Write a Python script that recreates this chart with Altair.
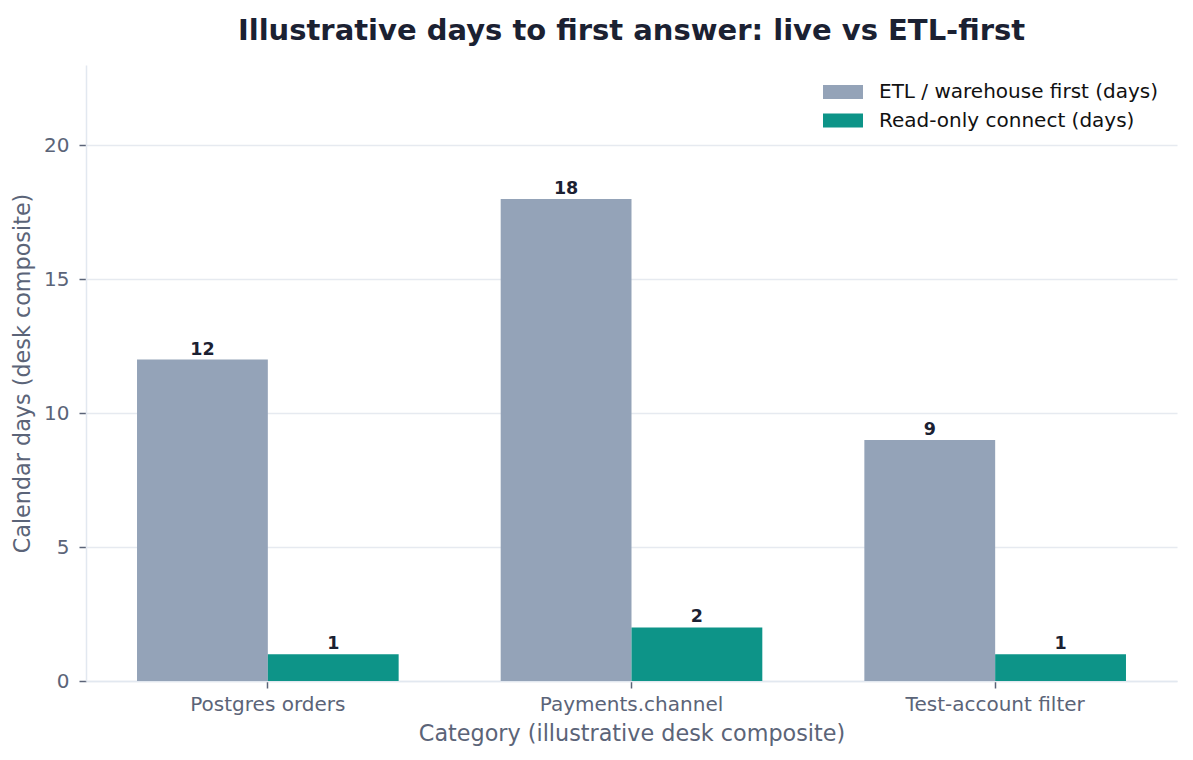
import altair as alt
import pandas as pd

categories = ["Postgres orders", "Payments.channel", "Test-account filter"]
series = ["ETL / warehouse first (days)", "Read-only connect (days)"]
etl_days = [12, 18, 9]
live_days = [1, 2, 1]

rows = []
for cat, e, l in zip(categories, etl_days, live_days):
    rows.append({"category": cat, "series": series[0], "days": e})
    rows.append({"category": cat, "series": series[1], "days": l})
df = pd.DataFrame(rows)

FONT = "DejaVu Sans"
MUTED = "#5b6478"
DARK = "#1b2132"
LINE = "#e2e8f0"

# wide legend swatch: custom path scaled by sqrt(symbolSize)/2
swatch = "M-2.857,-1L2.857,-1L2.857,1L-2.857,1Z"

base = alt.Chart(df)

x_enc = alt.X(
    "category:N",
    sort=categories,
    title="Category (illustrative desk composite)",
    scale=alt.Scale(paddingInner=0, paddingOuter=0),
    axis=alt.Axis(
        labelAngle=0,
        labelFontSize=20,
        labelColor=MUTED,
        labelPadding=6,
        labelLimit=400,
        tickColor=MUTED,
        tickSize=7,
        tickWidth=1.5,
        domainColor=LINE,
        domainWidth=1.5,
        titleFontSize=22.3,
        titleFontWeight="normal",
        titleColor=MUTED,
        titlePadding=8,
        grid=False,
    ),
)
xoff_enc = alt.XOffset(
    "series:N",
    sort=series,
    scale=alt.Scale(paddingInner=0, paddingOuter=0.39),
)
y_enc = alt.Y(
    "days:Q",
    title="Calendar days (desk composite)",
    scale=alt.Scale(domain=[0, 23], nice=False),
    axis=alt.Axis(
        values=[0, 5, 10, 15, 20],
        labelFontSize=20,
        labelColor=MUTED,
        labelPadding=10,
        tickColor=MUTED,
        tickSize=7,
        tickWidth=1.5,
        domainColor=LINE,
        domainWidth=1.5,
        gridColor="#e6eaf0",
        gridWidth=1.3,
        titleFontSize=22.3,
        titleFontWeight="normal",
        titleColor=MUTED,
        titlePadding=9,
    ),
)

bars = base.mark_bar().encode(
    x=x_enc,
    xOffset=xoff_enc,
    y=y_enc,
    color=alt.Color(
        "series:N",
        sort=series,
        scale=alt.Scale(domain=series, range=["#94a3b8", "#0d9488"]),
        legend=alt.Legend(
            title=None,
            orient="none",
            legendX=747,
            legendY=17,
            padding=0,
            symbolType=swatch,
            symbolSize=196,
            symbolStrokeWidth=0,
            symbolOpacity=1,
            labelFontSize=20,
            labelColor="#111111",
            labelOffset=26,
            labelLimit=500,
            rowPadding=8.5,
        ),
    ),
)

labels = base.mark_text(
    baseline="bottom",
    dy=-1,
    fontSize=17.5,
    fontWeight="bold",
    color=DARK,
).encode(
    x=alt.X("category:N", sort=categories),
    xOffset=xoff_enc,
    y="days:Q",
    text="days:Q",
)

chart = (
    alt.layer(bars, labels)
    .properties(
        width=1091,
        height=616,
        autosize=alt.AutoSizeParams(type="none"),
        padding={"left": 78, "top": 57, "right": 8, "bottom": 70},
        title=alt.Title(
            "Illustrative days to first answer: live vs ETL-first",
            fontSize=29,
            fontWeight="bold",
            color=DARK,
            anchor="middle",
            offset=19,
        ),
    )
    .configure(font=FONT)
    .configure_view(stroke=None)
)

chart.save("out.html", embed_options={"renderer": "svg", "actions": False})
